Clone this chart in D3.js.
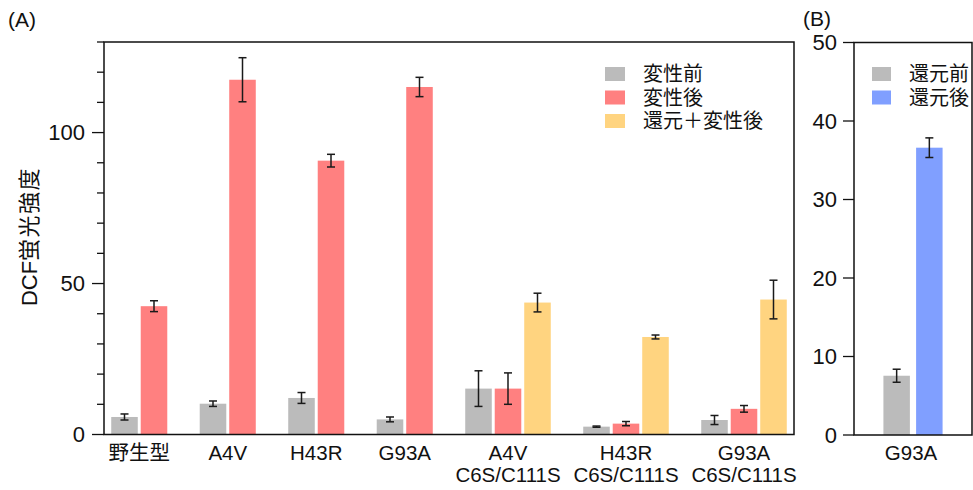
<!DOCTYPE html>
<html>
<head>
<meta charset="utf-8">
<script src="https://cdn.jsdelivr.net/npm/d3@7"></script>
<style>
  body { margin: 0; background: #fff; }
  svg { display: block; }
  text { font-family: "Liberation Sans", Arial, "Noto Sans CJK JP", sans-serif; fill: #111; }
</style>
</head>
<body>
<svg id="chart" width="973" height="490"></svg>
<script>
// ---- data, panel A ----
const groupsA = ["野生型", "A4V", "H43R", "G93A", "A4V|C6S/C111S", "H43R|C6S/C111S", "G93A|C6S/C111S"];
const seriesA = ["変性前", "変性後", "還元＋変性後"];
const beforeVals = [5.8, 10.2, 12.1, 5.0, 15.2, 2.6, 4.8];
const beforeErr = [1.0, 0.9, 1.8, 0.8, 5.9, 0.2, 1.5];
const afterVals = [42.5, 117.5, 90.7, 115.1, 15.2, 3.6, 8.5];
const afterErr = [1.8, 7.3, 2.1, 3.2, 5.2, 0.7, 1.1];
const redAfterVals = [null, null, null, null, 43.7, 32.3, 44.7];
const redAfterErr = [null, null, null, null, 3.1, 0.65, 6.4];
const ticksA = [0, 50, 100];

// ---- data, panel B ----
const groupsB = ["G93A"];
const seriesB = ["還元前", "還元後"];
const valsB = [7.55, 36.6];
const errB = [0.83, 1.25];
const ticksB = [0, 10, 20, 30, 40, 50];

const colorsA = ["#bbbbbb", "#ff8080", "#ffd480"];
const colorsB = ["#bbbbbb", "#809fff"];

const svg = d3.select("#chart");

// panel A layout
const A = { left: 104, right: 794, top: 42, bottom: 434.5 };
const yA = d3.scaleLinear().domain([0, 130]).range([A.bottom, A.top]);

// every bar sits in its own slot; an empty slot separates groups
const seriesValsA = [beforeVals, afterVals, redAfterVals];
const seriesErrA = [beforeErr, afterErr, redAfterErr];
const slots = [];
const barsA = [];
groupsA.forEach((g, gi) => {
  if (gi > 0) slots.push("gap" + gi);
  seriesA.forEach((s, si) => {
    const v = seriesValsA[si][gi];
    if (v == null) return;
    const key = gi + "-" + si;
    slots.push(key);
    barsA.push({ key, group: gi, series: si, value: v, err: seriesErrA[si][gi] });
  });
});
const xA = d3.scaleBand().domain(slots).range([A.left, A.right]).paddingInner(0.1).paddingOuter(0.245);

function drawErr(g, data, x, y) {
  const cap = 4;
  const e = g.append("g").attr("stroke", "#1a1a1a").attr("stroke-width", 1.5)
    .selectAll("g").data(data).join("g")
    .attr("transform", d => `translate(${x(d.key) + x.bandwidth() / 2},0)`);
  e.append("line").attr("y1", d => y(d.value - d.err)).attr("y2", d => y(d.value + d.err));
  e.append("line").attr("x1", -cap).attr("x2", cap).attr("y1", d => y(d.value + d.err)).attr("y2", d => y(d.value + d.err));
  e.append("line").attr("x1", -cap).attr("x2", cap).attr("y1", d => y(d.value - d.err)).attr("y2", d => y(d.value - d.err));
}

const gA = svg.append("g");
gA.append("g").selectAll("rect").data(barsA).join("rect")
  .attr("x", d => xA(d.key))
  .attr("width", xA.bandwidth())
  .attr("y", d => yA(d.value))
  .attr("height", d => yA(0) - yA(d.value))
  .attr("fill", d => colorsA[d.series]);
drawErr(gA, barsA, xA, yA);

// frame
gA.append("path")
  .attr("d", `M${A.left},${A.top}H${A.right}V${A.bottom}H${A.left}Z`)
  .attr("fill", "none").attr("stroke", "#111").attr("stroke-width", 1.5);

// y axis A: majors every 50, minors every 10
gA.append("g").attr("stroke", "#111").attr("stroke-width", 1.3)
  .selectAll("line").data(d3.range(0, 131, 10)).join("line")
  .attr("x1", d => A.left - (d % 50 === 0 ? 12 : 7)).attr("x2", A.left)
  .attr("y1", d => yA(d)).attr("y2", d => yA(d));
gA.append("g").selectAll("text").data(ticksA).join("text")
  .attr("x", A.left - 19).attr("y", d => yA(d)).attr("dy", "0.36em")
  .attr("text-anchor", "end").style("font-size", "22px").text(d => d);

// x labels A
gA.append("g").selectAll("text").data(groupsA).join("text")
  .attr("text-anchor", "middle").style("font-size", "20.5px")
  .attr("transform", (g, gi) => {
    const keys = barsA.filter(b => b.group === gi);
    const cx = (xA(keys[0].key) + xA(keys[keys.length - 1].key) + xA.bandwidth()) / 2;
    return `translate(${cx},460)`;
  })
  .each(function (g) {
    const lines = g.split("|");
    d3.select(this).selectAll("tspan").data(lines).join("tspan")
      .attr("x", 0).attr("y", (l, i) => i * 22).text(l => l);
  });

// y axis title
const title = svg.append("text")
  .attr("transform", "translate(29,236.5) rotate(-90)")
  .attr("dy", "0.36em")
  .attr("text-anchor", "middle").style("font-size", "22px");
title.append("tspan").text("DCF");
title.append("tspan").style("letter-spacing", "1.5px").text("蛍光強度");
svg.append("text").attr("x", 8).attr("y", 27).style("font-size", "21px").text("(A)");

// legend A
const legA = svg.append("g").attr("transform", "translate(605,67)");
seriesA.forEach((s, i) => {
  legA.append("rect").attr("x", 0).attr("y", i * 23.5).attr("width", 20).attr("height", 14).attr("fill", colorsA[i]);
  legA.append("text").attr("x", 38).attr("y", i * 23.5 + 7).attr("dy", "0.36em")
    .style("font-size", "20px").text(s);
});

// ---- panel B ----
const B = { left: 854, right: 972, top: 42.5, bottom: 435 };
const yB = d3.scaleLinear().domain([0, 50]).range([B.bottom, B.top]);
const barsB = seriesB.map((s, i) => ({ key: s, series: i, value: valsB[i], err: errB[i] }));
const xB = d3.scaleBand().domain(seriesB).range([B.left, B.right]).paddingInner(0.19).paddingOuter(0.9);

const gB = svg.append("g");
gB.append("g").selectAll("rect").data(barsB).join("rect")
  .attr("x", d => xB(d.key))
  .attr("width", xB.bandwidth())
  .attr("y", d => yB(d.value))
  .attr("height", d => yB(0) - yB(d.value))
  .attr("fill", d => colorsB[d.series]);
drawErr(gB, barsB, xB, yB);

gB.append("path")
  .attr("d", `M${B.left},${B.top}H${B.right}V${B.bottom}H${B.left}Z`)
  .attr("fill", "none").attr("stroke", "#111").attr("stroke-width", 1.5);

gB.append("g").attr("stroke", "#111").attr("stroke-width", 1.3)
  .selectAll("line").data(ticksB).join("line")
  .attr("x1", B.left - 11).attr("x2", B.left)
  .attr("y1", d => yB(d)).attr("y2", d => yB(d));
gB.append("g").selectAll("text").data(ticksB).join("text")
  .attr("x", B.left - 17).attr("y", d => yB(d)).attr("dy", "0.36em")
  .attr("text-anchor", "end").style("font-size", "22px").text(d => d);

gB.append("text").attr("x", (B.left + B.right) / 2 - 2).attr("y", 460)
  .attr("text-anchor", "middle").style("font-size", "20.5px").text(groupsB[0]);
svg.append("text").attr("x", 803).attr("y", 26).style("font-size", "21px").text("(B)");

const legB = svg.append("g").attr("transform", "translate(872,67)");
seriesB.forEach((s, i) => {
  legB.append("rect").attr("x", 0).attr("y", i * 23.5).attr("width", 19).attr("height", 14).attr("fill", colorsB[i]);
  legB.append("text").attr("x", 37).attr("y", i * 23.5 + 7).attr("dy", "0.36em")
    .style("font-size", "20px").text(s);
});
</script>
</body>
</html>
